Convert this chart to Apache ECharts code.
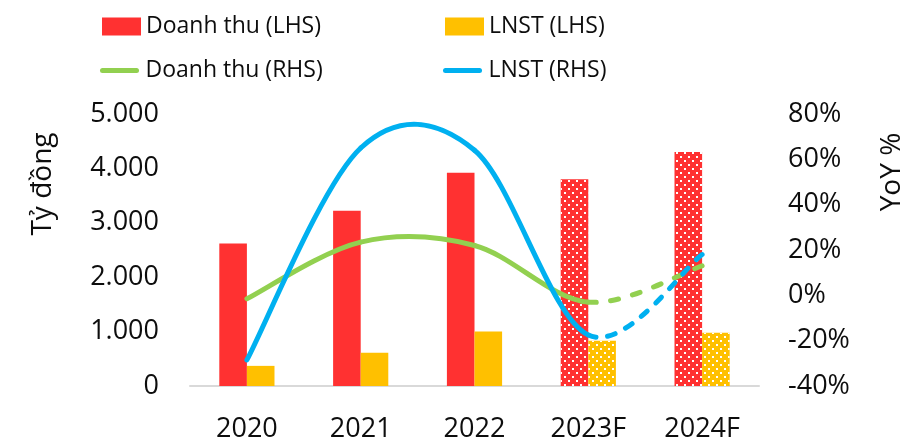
<!DOCTYPE html>
<html>
<head>
<meta charset="utf-8">
<script src="https://cdn.jsdelivr.net/npm/echarts@6/dist/echarts.min.js"></script>
<style>
  html, body { margin: 0; padding: 0; background: #fff; }
  #chart { width: 923px; height: 444px; }
</style>
</head>
<body>
<div id="chart"></div>
<script>
// Years on the category axis; the last two are forecasts
const years = ['2020', '2021', '2022', '2023F', '2024F'];
const firstForecast = 3;

// Left axis, billion VND
const revenue = [2620, 3220, 3920, 3800, 4300];
const netProfit = [370, 610, 1000, 830, 980];

// Right axis, year-on-year growth in %
const revenueYoY = [-1.5, 23.5, 22, -3, 13];
const netProfitYoY = [-28.5, 65, 64, -17.5, 18];

// Axis ranges
const leftMin = 0, leftMax = 5000, leftStep = 1000;
const rightMin = -40, rightMax = 80, rightStep = 20;

const FONT = '"Open Sans", "Noto Sans", sans-serif';
const TEXT = '#0d0d0d';
const RED = '#FF3131', YELLOW = '#FFC000', GREEN = '#92D050', BLUE = '#00B0F0';

// White dotted fill for forecast bars
const dots = {
  symbol: 'rect',
  symbolSize: 1,
  color: '#ffffff',
  dashArrayX: [[2, 6], [0, 4, 2, 2]],
  dashArrayY: [2, 2],
  rotation: 0
};

const barData = arr => arr.map((v, i) => i >= firstForecast ? { value: v, itemStyle: { decal: dots } } : v);
const thousands = v => String(v).replace(/\B(?=(\d{3})+(?!\d))/g, '.');

const capsule = 'path://M2.5,0 L36.5,0 A2.5,2.5 0 0 1 36.5,5 L2.5,5 A2.5,2.5 0 0 1 2.5,0 Z';
const legendText = { fontFamily: FONT, fontSize: 23, color: TEXT };
function legendItem(name, left, top, isLine) {
  return {
    data: [name], left: left, top: top, padding: 0,
    itemWidth: isLine ? 42 : 39, itemHeight: isLine ? 5 : 18,
    icon: isLine ? capsule : 'rect',
    itemGap: 0, textStyle: legendText, selectedMode: false
  };
}

// Length of a cubic Bezier piece, by sampling
function bezierLength(s) {
  let len = 0, px = s.x1, py = s.y1;
  for (let k = 1; k <= 60; k++) {
    const t = k / 60, u = 1 - t;
    const x = u * u * u * s.x1 + 3 * u * u * t * s.cpx1 + 3 * u * t * t * s.cpx2 + t * t * t * s.x2;
    const y = u * u * u * s.y1 + 3 * u * u * t * s.cpy1 + 3 * u * t * t * s.cpy2 + t * t * t * s.y2;
    len += Math.hypot(x - px, y - py);
    px = x; py = y;
  }
  return len;
}

// Dash pattern stretched so that a dash sits on both ends of the piece
function fittedDash(len, dash, gap) {
  const n = Math.max(1, Math.round((len - dash) / (dash + gap)));
  return [dash, (len - dash * (n + 1)) / n];
}

// Growth line: a Catmull-Rom spline through the points, one Bezier piece per
// year-to-year step; steps that end in a forecast year are dashed.
function growthCurve(name, values, color) {
  const last = values.length - 1;
  const at = (api, k) => {
    const j = Math.max(0, Math.min(last, k));
    return api.coord([j, values[j]]);
  };
  return {
    name: name, type: 'custom', yAxisIndex: 1,
    color: color, itemStyle: { color: color },
    data: values.map((v, i) => [i, v]),
    encode: { x: 0, y: 1 },
    clip: false, z: 3,
    renderItem: (params, api) => {
      const i = params.dataIndex;
      if (i >= last) return null;
      const p0 = at(api, i - 1), p1 = at(api, i), p2 = at(api, i + 1), p3 = at(api, i + 2);
      const t = 1 / 6;
      const shape = {
        x1: p1[0], y1: p1[1], x2: p2[0], y2: p2[1],
        cpx1: p1[0] + (p2[0] - p0[0]) * t, cpy1: p1[1] + (p2[1] - p0[1]) * t,
        cpx2: p2[0] - (p3[0] - p1[0]) * t, cpy2: p2[1] - (p3[1] - p1[1]) * t
      };
      return {
        type: 'bezierCurve',
        shape: shape,
        style: {
          stroke: color, fill: null, lineWidth: 5, lineCap: 'round',
          lineDash: i >= firstForecast ? fittedDash(bezierLength(shape), 8, 13) : null
        }
      };
    }
  };
}

const chart = echarts.init(document.getElementById('chart'), null, { renderer: 'canvas' });
chart.setOption({
  animation: false,
  backgroundColor: '#ffffff',
  legend: [
    legendItem('Doanh thu (LHS)', 102, 15, false),
    legendItem('LNST (LHS)', 445, 15, false),
    legendItem('Doanh thu (RHS)', 100, 59, true),
    legendItem('LNST (RHS)', 443, 59, true)
  ],
  grid: { left: 190, right: 164, top: 114, bottom: 58, containLabel: false },
  xAxis: {
    type: 'category', data: years, boundaryGap: true,
    axisLine: { show: true, lineStyle: { color: '#D9D9D9', width: 2 } },
    axisTick: { show: false },
    axisLabel: { fontFamily: FONT, fontSize: 27, color: TEXT, margin: 30 }
  },
  yAxis: [
    {
      type: 'value', min: leftMin, max: leftMax, interval: leftStep,
      axisLine: { show: false }, axisTick: { show: false }, splitLine: { show: false },
      axisLabel: { fontFamily: FONT, fontSize: 27, color: TEXT, margin: 31, formatter: thousands }
    },
    {
      type: 'value', min: rightMin, max: rightMax, interval: rightStep,
      axisLine: { show: false }, axisTick: { show: false }, splitLine: { show: false },
      axisLabel: { fontFamily: FONT, fontSize: 27, color: TEXT, margin: 29, formatter: v => v + '%' }
    }
  ],
  graphic: [
    { type: 'text', x: 43, y: 184, rotation: Math.PI / 2,
      style: { text: 'Tỷ đồng', fontFamily: FONT, fontSize: 28, fill: TEXT, textAlign: 'center', textVerticalAlign: 'middle' } },
    { type: 'text', x: 892, y: 172, rotation: Math.PI / 2,
      style: { text: 'YoY %', fontFamily: FONT, fontSize: 28, fill: TEXT, textAlign: 'center', textVerticalAlign: 'middle' } }
  ],
  series: [
    { name: 'Doanh thu (LHS)', type: 'bar', data: barData(revenue), color: RED,
      itemStyle: { color: RED }, barGap: '0%', barCategoryGap: '51.5%', z: 2 },
    { name: 'LNST (LHS)', type: 'bar', data: barData(netProfit), color: YELLOW,
      itemStyle: { color: YELLOW }, barGap: '0%', barCategoryGap: '51.5%', z: 2 },
    growthCurve('Doanh thu (RHS)', revenueYoY, GREEN),
    growthCurve('LNST (RHS)', netProfitYoY, BLUE)
  ]
});
</script>
</body>
</html>
